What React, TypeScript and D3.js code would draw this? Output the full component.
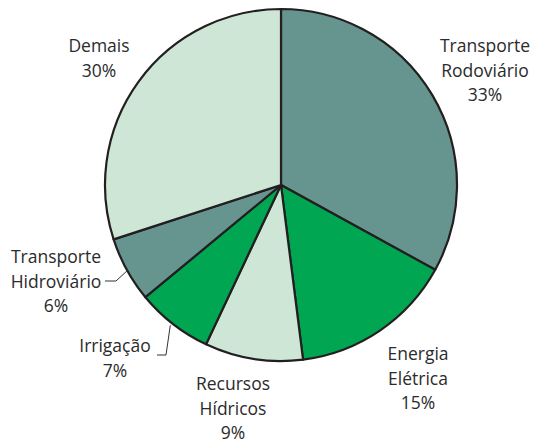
import { useRef, useEffect } from "react"
import * as d3 from "d3"

const categories = ["Transporte Rodoviário", "Energia Elétrica", "Recursos Hídricos", "Irrigação", "Transporte Hidroviário", "Demais"]
const values = [33, 15, 9, 7, 6, 30]
const colors = ["#66948f", "#00a651", "#cde6d6", "#00a651", "#66948f", "#cde6d6"]
const labelLines = [
  ["Transporte", "Rodoviário", "33%"],
  ["Energia", "Elétrica", "15%"],
  ["Recursos", "Hídricos", "9%"],
  ["Irrigação", "7%"],
  ["Transporte", "Hidroviário", "6%"],
  ["Demais", "30%"],
]

const App = () => {
  const svgRef = useRef<SVGSVGElement>(null)

  useEffect(() => {
    const svg = d3.select(svgRef.current)
    svg.selectAll("*").remove()

    const cx = 281
    const cy = 185
    const r = 176

    const pie = d3.pie<number>().sort(null).value((d) => d)
    const arcs = pie(values)
    const arc = d3.arc<d3.PieArcDatum<number>>().innerRadius(0).outerRadius(r)

    const g = svg.append("g").attr("transform", `translate(${cx},${cy})`)
    g.selectAll("path")
      .data(arcs)
      .enter()
      .append("path")
      .attr("d", arc)
      .attr("fill", (d, i) => colors[i])
      .attr("stroke", "#231f20")
      .attr("stroke-width", 2.2)
      .attr("stroke-linejoin", "round")

    // label anchors (center x, first baseline) per slice
    const anchors: [number, number][] = [
      [485, 52],
      [418, 360],
      [233, 390],
      [115, 352],
      [56, 263],
      [99, 52],
    ]
    const lineH = 24.5

    const labels = svg.append("g")
      .attr("font-family", "'Open Sans', 'DejaVu Sans', sans-serif")
      .attr("font-size", 17.5)
      .attr("fill", "#2b2b2b")
      .attr("text-anchor", "middle")

    labelLines.forEach((lines, i) => {
      const t = labels.append("text").attr("x", anchors[i][0]).attr("y", anchors[i][1])
      t.attr("aria-label", categories[i])
      lines.forEach((s, j) => {
        t.append("tspan").attr("x", anchors[i][0]).attr("dy", j === 0 ? 0 : lineH).text(s)
      })
    })

    // leader lines for small slices
    const leader = d3.line()
    const edge = (a: d3.PieArcDatum<number>, k: number) => {
      const m = (a.startAngle + a.endAngle) / 2
      return [cx + Math.sin(m) * r * k, cy - Math.cos(m) * r * k] as [number, number]
    }
    const e4 = edge(arcs[4], 0.98)
    const e3 = edge(arcs[3], 0.98)
    svg.append("path")
      .attr("d", leader([[105, 281], [116, 281], [e4[0] - 2, e4[1] + 2]]))
      .attr("fill", "none").attr("stroke", "#333").attr("stroke-width", 1)
    svg.append("path")
      .attr("d", leader([[157, 355], [166, 355], [e3[0] - 5, e3[1] + 4]]))
      .attr("fill", "none").attr("stroke", "#333").attr("stroke-width", 1)
  }, [])

  return (
    <svg ref={svgRef} width={534} height={443} style={{ position: "absolute", left: 0, top: 0, background: "#fff" }} />
  )
}

export default App
